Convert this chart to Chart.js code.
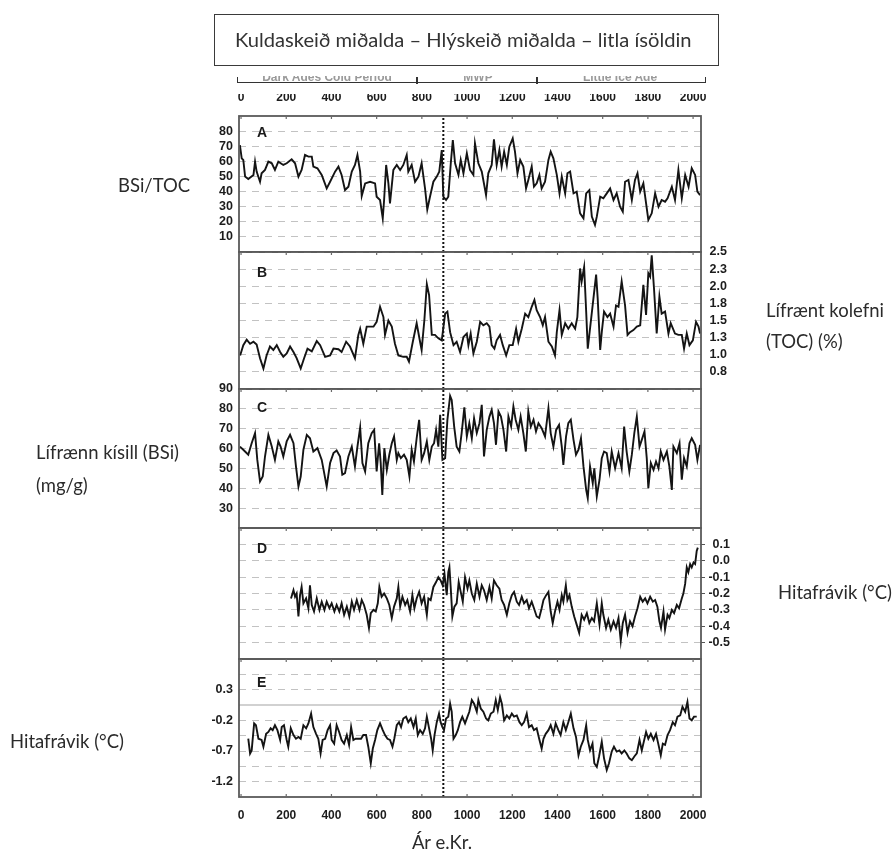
<!DOCTYPE html>
<html><head><meta charset="utf-8">
<title>Kuldaskeið miðalda – Hlýskeið miðalda – litla ísöldin</title>
<script src="https://cdn.jsdelivr.net/npm/chart.js@4.4.1/dist/chart.umd.min.js"></script>
<style>
html,body{margin:0;padding:0;background:#fff;}
#wrap{position:relative;width:896px;height:859px;overflow:hidden;background:#fff;}
#wrap canvas{position:absolute;left:0;top:0;}
.lbl{position:absolute;font-family:Lato,"Open Sans",sans-serif;color:#2b2b2b;white-space:nowrap;line-height:1;}
#box{position:absolute;left:214px;top:14px;width:503px;height:50px;border:1.5px solid #3a3a3a;background:#fff;}
#bracket{position:absolute;left:237px;top:77px;width:467px;height:5px;border:1.5px solid #333;border-top:none;}
.btick{position:absolute;top:77px;width:1.5px;height:6.5px;background:#333;}
#bclip{position:absolute;left:230px;top:76px;width:490px;height:5px;overflow:hidden;}
.btxt{position:absolute;top:-6px;font:bold 12px "Liberation Sans",Arial,sans-serif;color:#9a9a9a;white-space:nowrap;transform:translateX(-50%);}
</style></head>
<body><div id="wrap">
<canvas id="cA" width="896" height="859"></canvas>
<canvas id="cB" width="896" height="859"></canvas>
<canvas id="cC" width="896" height="859"></canvas>
<canvas id="cD" width="896" height="859"></canvas>
<canvas id="cE" width="896" height="859"></canvas>
<div id="bclip">
  <span class="btxt" style="left:97px">Dark Ages Cold Period</span>
  <span class="btxt" style="left:248px">MWP</span>
  <span class="btxt" style="left:390px">Little Ice Age</span>
</div>
<div id="bracket"></div>
<div class="btick" style="left:416px"></div>
<div class="btick" style="left:536px"></div>
<div id="box"></div>
</div>
<script>
// ---------- DATA ----------
const xTickValues = [0,200,400,600,800,1000,1200,1400,1600,1800,2000];
const xTickLabels = ['0','200','400','600','800','1000','1200','1400','1600','1800','2000'];
const mwpYear = 895;

// A: BSi/TOC
const aYears = [-5,3,10,18,32,55,62,69,84,91, 106,121,136,150,165,187,202,224,239,254,
 268,283,298,313,320,338,357,379,394,416, 431,445,460,475,490,504,515,527,534,549,
 571,593,600,615,627,633,642,652,659,674, 689,704,718,733,740,755,770,785,799,814,
 824,836,851,866,877,888,895,907,917,928, 937,947,962,972,984,999,1013,1028,1035,1050,
 1065,1084,1094,1109,1119,1131,1143,1153,1164,1176, 1187,1202,1212,1223,1235,1249,1261,1271,1286,1296,
 1308,1320,1330,1345,1360,1370,1382,1397,1409,1419, 1434,1444,1456,1471,1485,1500,1515,1527,1541,1552,
 1566,1574,1589,1603,1618,1633,1648,1662,1677,1689, 1699,1714,1729,1743,1754,1766,1780,1802,1817,1832,
 1847,1861,1876,1887,1906,1920,1935,1950,1965,1980, 1994,2009,2019,2031];
const aValues = [70.8,62.0,60.9,49.9,48.3,51.0,59.8,53.2,46.5,52.1,
 54.3,59.8,58.7,54.3,59.8,57.6,58.7,61.3,58.7,49.9,
 54.3,64.2,63.1,63.1,56.5,55.4,51.0,42.1,46.5,53.2,
 56.5,51.0,41.0,43.2,53.2,57.6,64.2,53.2,37.1,45.4,
 46.5,45.4,36.6,34.4,22.3,34.4,57.6,45.4,32.2,54.3,
 57.6,54.3,57.6,64.2,53.2,57.6,46.5,49.9,58.7,42.1,
 28.2,36.6,46.5,49.9,53.2,67.5,36.6,34.4,36.6,58.7,
 74.1,58.7,51.0,60.9,52.1,65.3,54.3,51.0,71.9,58.7,
 53.2,37.7,52.1,57.6,74.6,57.6,67.5,56.5,66.4,57.6,
 69.7,75.2,66.4,52.1,60.9,56.5,42.1,47.7,56.5,43.2,
 45.4,51.0,42.1,46.5,60.9,66.4,62.0,51.0,38.8,49.9,
 38.8,52.1,53.2,38.8,39.9,25.6,22.3,38.8,41.0,23.4,
 17.9,23.4,36.6,35.5,38.8,42.1,34.4,38.8,30.0,26.7,
 46.5,47.7,34.4,47.7,52.1,39.9,45.4,21.2,25.6,38.8,
 30.0,34.4,33.3,35.5,43.2,34.4,54.3,35.5,51.0,43.2,
 55.4,51.0,39.9,37.7];
const aTickValues = [10,20,30,40,50,60,70,80];
const aTickLabels = ['10','20','30','40','50','60','70','80'];

// B: TOC (%)
const bYears = [-4,10,25,40,55,69,84,99,113,128, 143,158,173,187,202,217,232,246,264,279,
 294,313,335,350,372,394,409,431,445,465, 482,504,519,527,541,556,586,600,615,630,
 637,652,667,681,696,718,733,743,760,777, 792,799,811,822,832,844,858,873,888,903,
 913,925,940,954,969,984,999,1006,1016,1028, 1043,1058,1072,1087,1099,1109,1121,1131,1146,1158,
 1173,1187,1202,1217,1227,1242,1257,1271,1286,1298, 1308,1323,1335,1345,1360,1375,1389,1397,1409,1419,
 1434,1448,1463,1478,1488,1500,1507,1518,1527,1534, 1544,1559,1571,1578,1589,1596,1606,1621,1633,1648,
 1659,1670,1684,1699,1710,1721,1736,1751,1766,1780, 1792,1802,1810,1817,1827,1839,1851,1861,1876,1891,
 1901,1920,1935,1950,1960,1972,1984,1999,2013,2024, 2031];
const bValues = [0.99,1.14,1.22,1.16,1.19,1.15,0.95,0.80,0.99,1.12,
 1.07,1.14,1.04,0.97,1.02,1.12,1.04,0.95,0.80,0.95,
 1.09,1.05,1.20,1.14,0.97,0.99,1.09,1.08,1.04,1.19,
 1.12,0.95,1.29,1.38,1.16,1.41,1.41,1.48,1.70,1.55,
 1.29,1.50,1.41,1.16,0.99,0.97,0.97,0.90,1.19,1.46,
 1.19,1.07,1.50,2.03,1.87,1.29,1.29,1.24,1.21,1.60,
 1.63,1.33,1.14,1.19,1.04,1.26,1.31,1.14,1.31,1.02,
 1.19,1.48,1.43,1.46,1.41,1.14,1.09,1.21,1.29,1.14,
 0.99,1.14,1.14,1.38,1.19,1.38,1.60,1.55,1.70,1.80,
 1.65,1.55,1.43,1.55,1.19,1.12,0.99,1.33,1.65,1.29,
 1.46,1.38,1.46,1.38,1.55,2.26,2.07,2.28,1.63,1.09,
 1.38,1.82,2.17,1.82,1.07,1.33,1.63,1.55,1.60,1.41,
 1.72,1.70,2.07,1.72,1.29,1.33,1.36,1.41,1.43,2.02,
 1.58,2.19,2.14,2.45,1.97,1.31,1.85,1.60,1.63,1.31,
 1.46,1.31,1.29,1.29,1.09,1.31,1.14,1.21,1.48,1.41,
 1.31];
const bTickValues = [0.75,1.0,1.25,1.5,1.75,2.0,2.25,2.5];
const bTickLabels = ['0.8','1.0','1.3','1.5','1.8','2.0','2.3','2.5'];

// C: BSi (mg/g)
const cYears = [-5,10,32,47,62,72,84,96,106,121, 136,150,165,175,187,202,217,232,243,254,
 264,276,291,305,320,338,357,379,394,409, 423,438,448,460,475,490,504,515,527,537,
 549,563,578,589,600,611,618,625,634,645, 656,667,677,689,696,707,721,733,745,755,
 765,777,788,799,810,822,833,844,854,863, 873,881,891,903,913,925,932,943,954,966,
 976,988,999,1010,1021,1031,1043,1055,1065,1075, 1087,1099,1109,1119,1128,1139,1150,1161,1173,1183,
 1195,1205,1215,1227,1237,1249,1260,1271,1282,1294, 1305,1316,1330,1345,1360,1370,1382,1394,1407,1419,
 1426,1438,1448,1459,1471,1482,1493,1504,1515,1527, 1534,1544,1556,1563,1574,1586,1596,1606,1618,1630,
 1640,1655,1670,1684,1695,1706,1718,1729,1740,1751, 1763,1773,1785,1795,1802,1813,1825,1836,1847,1857,
 1869,1884,1895,1906,1913,1928,1940,1950,1960,1972, 1984,1994,2009,2019,2031];
const cValues = [61.0,59.4,56.9,62.7,67.8,54.3,43.4,45.9,56.0,66.9,
 61.0,54.3,63.6,61.0,56.0,63.6,66.9,62.7,51.0,40.9,
 45.9,59.4,66.9,65.2,58.5,60.2,54.3,40.9,52.7,57.7,
 59.0,56.0,46.8,47.6,56.0,61.0,51.0,61.0,70.6,52.7,
 48.5,62.7,67.8,69.4,48.5,62.7,52.7,36.7,60.2,49.3,
 56.9,62.7,66.1,54.3,57.7,55.2,56.9,54.3,45.9,59.4,
 53.5,65.2,74.5,54.3,57.7,63.6,54.3,61.0,62.7,69.4,
 61.0,77.0,54.3,55.2,74.5,86.5,84.5,71.1,61.0,58.5,
 67.8,80.8,66.1,72.8,65.2,75.3,67.8,72.8,82.0,56.0,
 69.4,76.1,79.5,72.8,61.9,78.7,76.1,69.4,58.5,76.1,
 71.1,81.2,74.5,69.4,76.1,67.8,58.5,78.7,71.1,74.5,
 68.6,72.8,70.3,66.1,80.3,67.8,61.0,69.4,71.9,61.0,
 51.8,66.1,72.8,74.5,64.4,56.9,59.4,65.2,51.0,39.2,
 35.0,51.0,42.6,50.1,35.9,44.3,55.2,58.5,57.7,48.5,
 58.5,50.1,57.7,50.1,71.1,58.5,48.5,56.9,67.8,76.1,
 61.0,64.4,68.6,55.2,40.1,52.7,49.3,53.5,50.1,58.5,
 54.3,58.5,51.0,39.2,61.0,57.7,62.7,44.3,55.2,51.0,
 62.7,65.2,61.9,54.3,61.9];
const cTickValues = [30,40,50,60,70,80,90];
const cTickLabels = ['30','40','50','60','70','80','90'];

// D: Hitafrávik (°C)
const dYears = [221,232,239,246,254,261,268,276,288,298, 305,313,323,335,347,357,369,379,391,401,
 413,423,435,445,456,468,479,490,500,512, 524,534,544,556,566,574,586,596,605,612,
 622,633,645,656,667,677,689,696,704,714, 726,736,748,758,767,777,788,799,810,822,
 829,839,851,863,873,883,892,900,910,917, 922,928,935,944,954,963,972,981,991,1002,
 1010,1021,1032,1043,1055,1065,1075,1087,1099,1109, 1119,1131,1143,1153,1164,1176,1187,1198,1208,1220,
 1230,1242,1252,1264,1274,1286,1296,1308,1319,1330, 1338,1350,1360,1370,1379,1389,1400,1409,1419,1426,
 1437,1444,1453,1463,1474,1485,1496,1507,1518,1530, 1541,1552,1562,1574,1586,1596,1603,1615,1625,1636,
 1648,1659,1670,1680,1689,1699,1710,1721,1732,1743, 1754,1766,1777,1788,1798,1810,1822,1832,1842,1851,
 1858,1869,1876,1887,1895,1906,1916,1928,1938,1950, 1957,1965,1972,1979,1987,1994,2002,2009,2016,2021];
const dValues = [-0.23,-0.18,-0.22,-0.20,-0.34,-0.21,-0.16,-0.26,-0.23,-0.29,
 -0.15,-0.27,-0.31,-0.23,-0.30,-0.25,-0.30,-0.25,-0.29,-0.26,
 -0.31,-0.27,-0.31,-0.26,-0.33,-0.28,-0.34,-0.25,-0.30,-0.24,
 -0.30,-0.24,-0.27,-0.33,-0.41,-0.32,-0.30,-0.31,-0.26,-0.16,
 -0.22,-0.20,-0.23,-0.27,-0.35,-0.28,-0.23,-0.16,-0.28,-0.22,
 -0.27,-0.24,-0.31,-0.21,-0.29,-0.23,-0.19,-0.26,-0.22,-0.33,
 -0.23,-0.24,-0.16,-0.13,-0.10,-0.12,-0.15,-0.08,-0.21,-0.07,
 -0.04,-0.17,-0.34,-0.28,-0.26,-0.13,-0.19,-0.25,-0.10,-0.17,
 -0.12,-0.20,-0.24,-0.14,-0.22,-0.15,-0.18,-0.24,-0.16,-0.23,
 -0.12,-0.15,-0.17,-0.24,-0.27,-0.33,-0.26,-0.21,-0.19,-0.25,
 -0.27,-0.22,-0.26,-0.24,-0.29,-0.25,-0.29,-0.34,-0.35,-0.29,
 -0.24,-0.21,-0.19,-0.31,-0.38,-0.31,-0.25,-0.30,-0.21,-0.25,
 -0.15,-0.24,-0.21,-0.28,-0.34,-0.39,-0.44,-0.33,-0.36,-0.32,
 -0.38,-0.35,-0.37,-0.26,-0.39,-0.26,-0.33,-0.41,-0.36,-0.42,
 -0.37,-0.41,-0.35,-0.49,-0.38,-0.33,-0.44,-0.37,-0.40,-0.34,
 -0.29,-0.22,-0.25,-0.23,-0.26,-0.22,-0.25,-0.24,-0.28,-0.37,
 -0.41,-0.31,-0.42,-0.33,-0.35,-0.30,-0.32,-0.27,-0.29,-0.23,
 -0.20,-0.14,-0.04,-0.07,-0.02,-0.04,-0.01,-0.02,0.06,0.08];
const dTickValues = [-0.5,-0.4,-0.3,-0.2,-0.1,0.0,0.1];
const dTickLabels = ['-0.5','-0.4','-0.3','-0.2','-0.1','0.0','0.1'];

// E: Hitafrávik (°C)
const eYears = [32,40,47,58,66,77,91,99,111,121, 131,140,150,161,173,180,190,202,209,220,
 232,243,254,264,276,288,298,310,320,332, 342,352,361,372,383,394,401,412,423,434,
 445,456,468,478,487,497,507,519,531,541, 553,563,574,583,593,603,615,627,637,648,
 659,670,678,689,699,708,718,730,740,751, 763,773,782,792,804,814,822,832,841,848,
 856,866,876,883,891,898,907,917,925,932, 940,950,959,969,979,991,1002,1010,1021,1031,
 1043,1050,1061,1072,1084,1094,1105,1117,1127,1136, 1146,1154,1164,1176,1187,1198,1208,1220,1232,1242,
 1252,1264,1274,1286,1296,1308,1319,1330,1338,1348, 1360,1370,1382,1392,1404,1414,1426,1437,1448,1459,
 1471,1482,1493,1503,1515,1527,1534,1544,1555,1563, 1574,1584,1596,1606,1618,1628,1640,1650,1662,1674,
 1684,1696,1706,1718,1729,1740,1751,1763,1773,1780, 1792,1802,1813,1825,1836,1847,1857,1866,1876,1887,
 1898,1910,1920,1931,1943,1953,1965,1975,1984,1994, 2004,2016];
const eValues = [-0.50,-0.74,-0.69,-0.25,-0.28,-0.50,-0.52,-0.63,-0.42,-0.39,
 -0.33,-0.36,-0.28,-0.36,-0.52,-0.31,-0.28,-0.52,-0.63,-0.33,
 -0.44,-0.50,-0.47,-0.50,-0.28,-0.33,-0.25,-0.09,-0.31,-0.42,
 -0.50,-0.74,-0.52,-0.50,-0.36,-0.28,-0.52,-0.58,-0.28,-0.39,
 -0.52,-0.58,-0.44,-0.60,-0.31,-0.52,-0.50,-0.50,-0.50,-0.44,
 -0.44,-0.63,-0.90,-0.66,-0.52,-0.36,-0.25,-0.36,-0.44,-0.50,
 -0.52,-0.63,-0.50,-0.28,-0.23,-0.31,-0.17,-0.14,-0.23,-0.17,
 -0.31,-0.17,-0.44,-0.36,-0.42,-0.33,-0.14,-0.33,-0.50,-0.69,
 -0.44,-0.23,-0.09,-0.23,-0.31,-0.36,-0.17,-0.14,0.07,-0.06,
 -0.50,-0.44,-0.36,-0.23,-0.14,-0.25,-0.14,-0.06,0.13,0.07,
 -0.06,0.13,-0.01,-0.06,-0.17,-0.20,-0.09,-0.06,0.13,-0.03,
 0.18,0.07,-0.20,-0.12,-0.17,-0.09,-0.14,-0.12,-0.23,-0.28,
 -0.23,-0.09,-0.31,-0.28,-0.36,-0.33,-0.50,-0.66,-0.50,-0.42,
 -0.36,-0.28,-0.42,-0.25,-0.36,-0.44,-0.23,-0.36,-0.23,-0.09,
 -0.33,-0.47,-0.77,-0.63,-0.52,-0.28,-0.52,-0.69,-0.58,-0.90,
 -0.96,-0.79,-0.55,-0.82,-1.01,-0.90,-0.71,-0.63,-0.71,-0.69,
 -0.74,-0.69,-0.74,-0.82,-0.85,-0.79,-0.74,-0.52,-0.69,-0.58,
 -0.39,-0.50,-0.42,-0.52,-0.42,-0.60,-0.77,-0.58,-0.60,-0.44,
 -0.36,-0.23,-0.28,-0.14,-0.12,0.02,-0.06,0.10,-0.17,-0.20,
 -0.14,-0.14];
const eTickValues = [-1.2,-0.95,-0.7,-0.45,-0.2,0.3,0.55];
const eTickLabels = ['-1.2','','-0.7','','-0.2','0.3',''];
const eRefLine = 0.05;

// ---------- TEXT ----------
const titleText = 'Kuldaskeið miðalda – Hlýskeið miðalda – litla ísöldin';
const sideLabels = [
  {text:'BSi/TOC', left:118, cy:186},
  {text:'Lífrænt kolefni', left:766, cy:311},
  {text:'(TOC) (%)', left:766, cy:342},
  {text:'Lífrænn kísill (BSi)', left:36, cy:453},
  {text:'(mg/g)', left:36, cy:486},
  {text:'Hitafrávik (°C)', left:778, cy:593},
  {text:'Hitafrávik (°C)', left:10, cy:742},
  {text:'Ár e.Kr.', center:442, cy:843}
];

// ---------- LAYOUT ----------
const xMin = -9, xMax = 2035;
const PLOT_L = 239, PLOT_R = 701, W = 896, H = 859;
const FONT = "'Liberation Sans', Arial, Helvetica, sans-serif";
const panels = [
  {id:'A', years:aYears, values:aValues, yMin:0, yMax:90, tv:aTickValues, tl:aTickLabels, side:'left', top:116, bottom:252, xAxis:'top', letterY:21},
  {id:'B', years:bYears, values:bValues, yMin:0.5, yMax:2.5, tv:bTickValues, tl:bTickLabels, side:'right', top:252, bottom:389, letterY:25},
  {id:'C', years:cYears, values:cValues, yMin:20, yMax:90, tv:cTickValues, tl:cTickLabels, side:'left', top:389, bottom:528, letterY:23},
  {id:'D', years:dYears, values:dValues, yMin:-0.6, yMax:0.2, tv:dTickValues, tl:dTickLabels, side:'right', top:528, bottom:659, letterY:25, outTicks:true},
  {id:'E', years:eYears, values:eValues, yMin:-1.45, yMax:0.8, tv:eTickValues, tl:eTickLabels, side:'left', top:659, bottom:797, xAxis:'bottom', letterY:28, refLine:eRefLine}
];

const framePlugin = {
  id:'frame',
  afterDatasetsDraw(chart, args, o){
    const {ctx, chartArea:a} = chart;
    const xs = chart.scales.x;
    ctx.save();
    ctx.setLineDash([]);
    ctx.strokeStyle = '#5a5a5a'; ctx.lineWidth = 1.8;
    ctx.strokeRect(a.left, a.top, a.right - a.left, a.bottom - a.top);
    ctx.lineWidth = 1.2; ctx.strokeStyle = '#6a6a6a';
    ctx.beginPath();
    xTickValues.forEach(v => {
      const px = xs.getPixelForValue(v);
      ctx.moveTo(px, a.top); ctx.lineTo(px, a.top + 3);
      if (o.bottomTicks) { ctx.moveTo(px, a.bottom); ctx.lineTo(px, a.bottom - 3); }
    });
    ctx.stroke();
    ctx.fillStyle = '#1a1a1a';
    ctx.font = 'bold 14px ' + FONT;
    ctx.textAlign = 'left'; ctx.textBaseline = 'alphabetic';
    ctx.fillText(o.letter, a.left + 18, a.top + o.letterY);
    ctx.restore();
  }
};

function makePanel(p){
  const yW = p.side === 'left' ? 30 : (p.id === 'D' ? 29 : 26);
  const xH = 22;
  const datasets = [
    {data: p.years.map((x, i) => ({x, y: p.values[i]})), borderColor:'#141414', borderWidth:1.9, pointRadius:0, tension:0, fill:false},
    {data: [{x: mwpYear, y: p.yMin}, {x: mwpYear, y: p.yMax}], borderColor:'#111', borderWidth:2, borderDash:[2,2], pointRadius:0}
  ];
  if (p.refLine !== undefined) {
    datasets.push({data: [{x: xMin, y: p.refLine}, {x: xMax, y: p.refLine}], borderColor:'#a3a3a3', borderWidth:1, pointRadius:0});
  }
  const xScale = {type:'linear', min:xMin, max:xMax, bounds:'data', display:false};
  if (p.xAxis) {
    Object.assign(xScale, {
      display:true, position:p.xAxis,
      afterBuildTicks: s => { s.ticks = xTickValues.map(v => ({value:v})); },
      afterFit: s => { s.height = xH; },
      grid:{display:false, drawTicks:false}, border:{display:false},
      ticks:{autoSkip:false, maxRotation:0, padding:11,
        color:'#1c1c1c', font:{family:FONT, size:12, weight:'bold'},
        callback:(v, i) => xTickLabels[i]}
    });
  }
  new Chart(document.getElementById('c' + p.id), {
    type:'line',
    data:{datasets},
    options:{
      responsive:false, animation:false, devicePixelRatio:1, events:[],
      layout:{padding:{
        left: p.side === 'left' ? PLOT_L - yW : PLOT_L,
        right: p.side === 'right' ? W - PLOT_R - yW : W - PLOT_R,
        top: p.xAxis === 'top' ? p.top - xH : p.top,
        bottom: p.xAxis === 'bottom' ? H - p.bottom - xH : H - p.bottom
      }},
      plugins:{legend:{display:false}, tooltip:{enabled:false},
        frame:{letter:p.id, letterY:p.letterY, bottomTicks:p.xAxis === 'bottom'}},
      scales:{
        x: xScale,
        y: {type:'linear', position:p.side, min:p.yMin, max:p.yMax, bounds:'data',
          afterBuildTicks: s => { s.ticks = p.tv.map(v => ({value:v})); },
          afterFit: s => { s.width = yW; },
          grid:{color:'#c2c2c2', lineWidth:1, drawTicks:!!p.outTicks, tickLength:4, tickColor:'#555', tickBorderDash:[]},
          border:{display:false, dash:[7,6]},
          ticks:{autoSkip:false, padding:6, crossAlign: p.side === 'right' ? 'far' : 'near',
            color:'#1c1c1c', font:{family:FONT, size:12.5, weight:'bold'},
            callback:(v, i) => p.tl[i]}
        }
      }
    },
    plugins:[framePlugin]
  });
}
panels.forEach(makePanel);

// ---------- HTML TEXT ----------
function fitSize(text, family, target){
  const c = document.createElement('canvas').getContext('2d');
  c.font = '100px ' + family;
  return 100 * target / c.measureText(text).width;
}
const wrap = document.getElementById('wrap');
const lblSize = 0.9 * fitSize('Lífrænn kísill (BSi)', 'Lato', 159);
sideLabels.forEach(l => {
  const d = document.createElement('div');
  d.className = 'lbl';
  d.textContent = l.text;
  d.style.fontSize = lblSize + 'px';
  d.style.top = (l.cy - 0.53 * lblSize) + 'px';
  if (l.center !== undefined) {
    d.style.left = (l.center - 100) + 'px'; d.style.width = '200px'; d.style.textAlign = 'center';
  } else d.style.left = l.left + 'px';
  wrap.appendChild(d);
});
const tSize = fitSize(titleText, 'Lato', 457);
const t = document.createElement('div');
t.className = 'lbl';
t.textContent = titleText;
t.style.fontSize = tSize + 'px';
t.style.left = '235px';
t.style.top = (47 - 0.887 * tSize) + 'px';
t.style.color = '#333';
wrap.appendChild(t);
</script>
</body></html>
